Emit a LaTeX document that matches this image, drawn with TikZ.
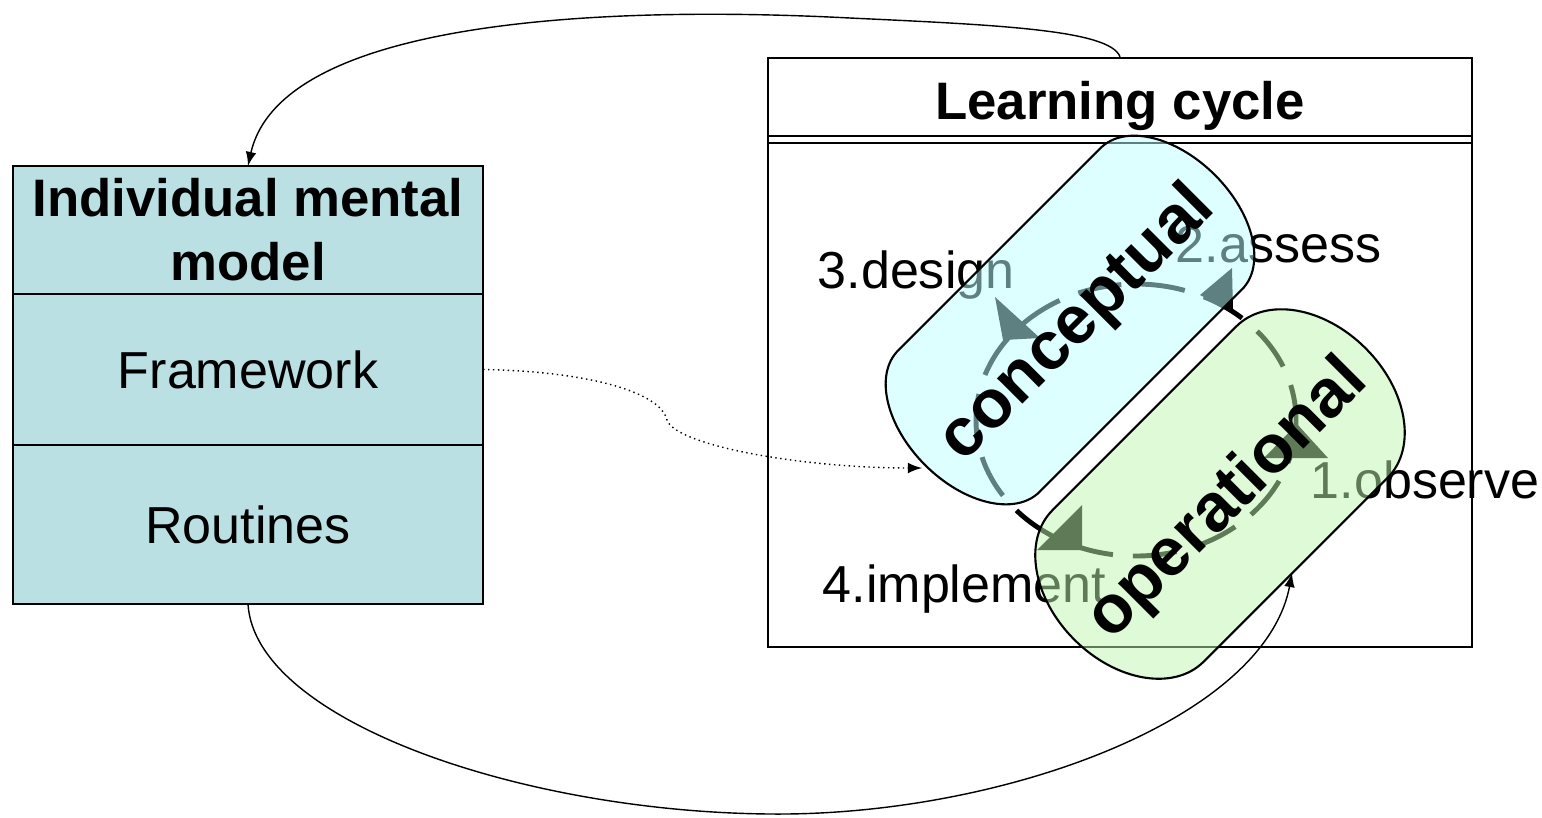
\documentclass[tikz,border=0pt]{standalone}
\usepackage{fontspec}
\setmainfont{Liberation Sans}
\definecolor{mmfill}{RGB}{187,224,227}
\definecolor{concfill}{RGB}{190,255,255}
\definecolor{operfill}{RGB}{190,245,175}

\begin{document}
\begin{tikzpicture}[
        x=0.01cm, y=-0.01cm,
        every node/.style={font=\fontsize{14.8}{18.2}\selectfont},
        mmbox/.style={draw, semithick, fill=mmfill, minimum width=4.7cm, inner sep=0pt, outer sep=0pt, align=center},
        steplabel/.style={anchor=base west, inner sep=0pt},
        bigword/.style={rotate=45, inner sep=0pt, font=\fontsize{19.3}{22}\selectfont\bfseries},
        capsule/.style={draw, semithick, fill opacity=0.5},
        cyclearc/.style={line width=1.4pt, dash pattern=on 12.5pt off 5.7pt},
        conn/.style={thin, -latex}
    ]
        \useasboundingbox (0,0) rectangle (1542,817);

        % Vẽ khối bên trái
        \node[mmbox, minimum height=1.28cm, font=\fontsize{15}{18.2}\selectfont\bfseries] (mmtitle) at (248,230) {Individual mental\\model};
        \node[mmbox, minimum height=1.51cm] (mmframe) at (248,369.5) {Framework};
        \node[mmbox, minimum height=1.59cm] (mmrout) at (248,524.5) {Routines};

        % Vẽ khung chu trình
        \node[draw, semithick, minimum width=7.04cm, minimum height=5.89cm, inner sep=0pt] (cyclebox) at (1120,352.5) {};
        \draw[semithick] (768,136) -- (1472,136);
        \draw[semithick] (768,143) -- (1472,143);
        \node[anchor=base, font=\fontsize{15}{18}\selectfont\bfseries] (cycletitle) at (1120,119) {Learning cycle};

        % Các bước
        \node[steplabel] (observe) at (1310,498) {1.observe};
        \node[steplabel] (assess) at (1175,262) {2.assess};
        \node[steplabel] (design) at (817,288) {3.design};
        \node[steplabel] (implement) at (822,602) {4.implement};

        % Vòng tròn và mũi tên
        \draw[cyclearc] (1136,420) ellipse [x radius=160, y radius=136];
        \fill (995,297) -- (1040,338) -- (1003,340) -- cycle;
        \fill (1232,268) -- (1233,312) -- (1200,295) -- cycle;
        \fill (1297,424) -- (1328,458) -- (1264,458) -- cycle;
        \fill (1082,505) -- (1037,550) -- (1082,550) -- cycle;

        % Hai khối xoay
        \begin{scope}[shift={(1070,320)}, rotate=45]
            \path[capsule, fill=concfill] (-143,-100) -- (143,-100)
                arc[start angle=-90, end angle=90, x radius=62, y radius=100] -- (-143,100)
                arc[start angle=90, end angle=270, x radius=62, y radius=100] -- cycle;
        \end{scope}
        \begin{scope}[shift={(1220,494)}, rotate=45]
            \path[capsule, fill=operfill] (-130,-107) -- (130,-107)
                arc[start angle=-90, end angle=90, x radius=76, y radius=107] -- (-130,107)
                arc[start angle=90, end angle=270, x radius=76, y radius=107] -- cycle;
        \end{scope}
        \node[bigword] (concword) at (1078,324) {conceptual};
        \node[bigword] (operword) at (1228,500) {operational};

        % Các liên kết
        \coordinate (concin) at (922,468);
        \coordinate (operin) at (1292,573);
        \draw[conn] (cyclebox.north) .. controls (1110,30) and (1000,25) .. (850,18)
            .. controls (600,5) and (280,20) .. (mmtitle.north);
        \draw[conn] (mmrout.south) .. controls (255,720) and (520,812) .. (771,814)
            .. controls (1000,816) and (1265,720) .. (operin);
        \draw[conn, densely dotted] (mmframe.east) .. controls (580,371) and (660,390) .. (667,420)
            .. controls (675,445) and (800,468) .. (concin);
    \end{tikzpicture}
\end{document}
